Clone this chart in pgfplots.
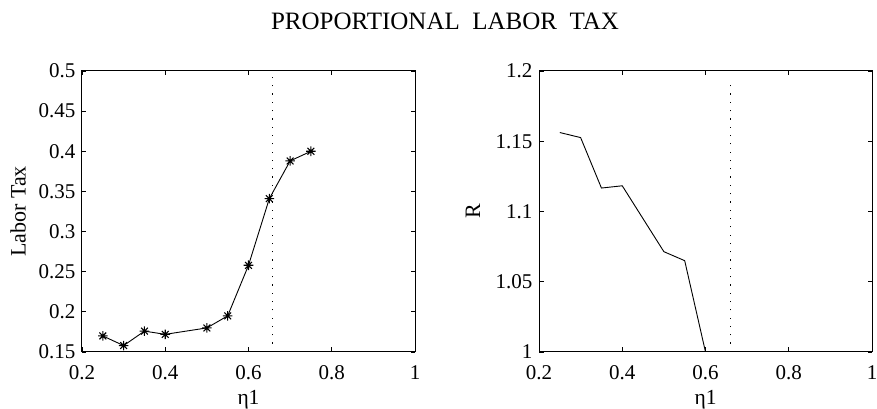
\documentclass[border=0pt]{standalone}
\usepackage{pgfplots}
\pgfplotsset{compat=1.18}
\usepackage{fontspec}
\setmainfont{Liberation Serif}
\pgfdeclareplotmark{mstar}{%
 \pgfpathmoveto{\pgfqpoint{-\pgfplotmarksize}{0pt}}\pgfpathlineto{\pgfqpoint{\pgfplotmarksize}{0pt}}%
 \pgfpathmoveto{\pgfqpoint{0pt}{-\pgfplotmarksize}}\pgfpathlineto{\pgfqpoint{0pt}{\pgfplotmarksize}}%
 \pgfpathmoveto{\pgfqpoint{-.7071\pgfplotmarksize}{-.7071\pgfplotmarksize}}\pgfpathlineto{\pgfqpoint{.7071\pgfplotmarksize}{.7071\pgfplotmarksize}}%
 \pgfpathmoveto{\pgfqpoint{-.7071\pgfplotmarksize}{.7071\pgfplotmarksize}}\pgfpathlineto{\pgfqpoint{.7071\pgfplotmarksize}{-.7071\pgfplotmarksize}}%
 \pgfusepathqstroke}
\pgfplotsset{
  mstyle/.style={
    scale only axis, width=333pt, height=281pt,
    xmin=0.2, xmax=1, xtick={0.2,0.4,0.6,0.8,1},
    tick align=inside, xtick pos=both, ytick pos=both,
    major tick length=4.5pt,
    axis line style={line width=1pt},
    every tick/.style={line width=0.8pt, black},
    /pgf/number format/assume math mode=true,
    tick label style={font=\fontsize{21}{24}\selectfont},
    xticklabel style={yshift=-10pt},
    yticklabel style={xshift=-3pt},
    xlabel={η1},
    every axis x label/.style={at={(axis description cs:0.5,0)}, anchor=center, yshift=-48pt, font=\fontsize{21.5}{24}\selectfont},
  }
}
\begin{document}
\begin{tikzpicture}[x=1pt,y=1pt]
\path[use as bounding box] (0,0) rectangle (877,409);
\node[font=\fontsize{25}{28}\selectfont] at (445,388) {PROPORTIONAL\ \ LABOR\ \ TAX};
\begin{axis}[mstyle, at={(82pt,57pt)}, anchor=south west,
  ymin=0.15, ymax=0.5, ytick={0.15,0.2,0.25,0.3,0.35,0.4,0.45,0.5},
  yticklabel style={/pgf/number format/fixed, /pgf/number format/precision=2},
  ylabel={Labor Tax},
  every axis y label/.style={at={(axis description cs:0,0.5)}, rotate=90, anchor=center, yshift=64pt, font=\fontsize{22}{24}\selectfont}]
\addplot[black, line width=0.9pt, mark=mstar, mark size=4.8pt, mark options={line width=1.1pt}] coordinates {
(0.25,0.170) (0.30,0.158) (0.35,0.176) (0.40,0.172) (0.50,0.180)
(0.55,0.195) (0.60,0.258) (0.65,0.341) (0.70,0.388) (0.75,0.400)};
\addplot[black, line width=1.3pt, dash pattern=on 1.2pt off 7.1pt] coordinates {(0.658,0.15) (0.658,0.4925)};
\end{axis}
\begin{axis}[mstyle, at={(539pt,57pt)}, anchor=south west,
  ymin=1, ymax=1.2, ytick={1,1.05,1.1,1.15,1.2},
  ylabel={R},
  every axis y label/.style={at={(axis description cs:0,0.5)}, rotate=90, anchor=center, yshift=66pt, font=\fontsize{22}{24}\selectfont}]
\addplot[black, line width=0.9pt] coordinates {
(0.25,1.1562) (0.30,1.1526) (0.35,1.1167) (0.40,1.1183) (0.50,1.0714)
(0.55,1.0650) (0.60,1.0000)};
\addplot[black, line width=1.3pt, dash pattern=on 1.2pt off 7.1pt] coordinates {(0.66,1) (0.66,1.1946)};
\end{axis}
\end{tikzpicture}
\end{document}
